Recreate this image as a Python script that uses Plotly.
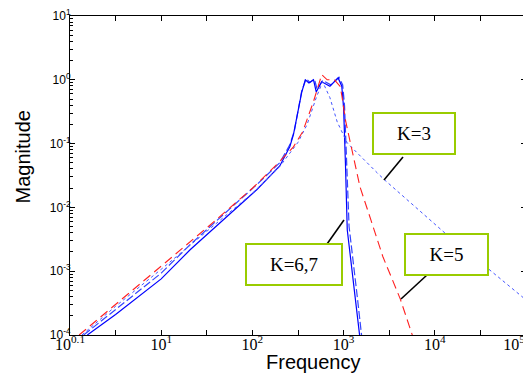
import plotly.graph_objects as go

# ---- data (log10 of frequency, log10 of magnitude) ----
k3_logf = [0.13, 0.5, 1.0, 1.5, 2.0, 2.3, 2.5, 2.6, 2.7, 2.77, 2.85, 2.93, 2.98, 3.04, 3.37, 3.45, 4.11, 4.97, 5.0]
k3_logm = [-4.0, -3.55, -2.97, -2.37, -1.78, -1.36, -0.98, -0.70, -0.28, -0.03, -0.28, -0.66, -0.80, -0.99, -1.46, -1.57, -2.40, -3.42, -3.45]

k5_logf = [0.10, 0.5, 1.0, 1.5, 2.0, 2.3, 2.45, 2.55, 2.67, 2.76, 2.82, 2.90, 2.96, 2.98, 3.02, 3.10, 3.18, 3.30, 3.43, 3.62, 3.76, 3.80]
k5_logm = [-4.0, -3.52, -2.92, -2.32, -1.70, -1.28, -1.05, -0.82, -0.34, 0.08, 0.0, 0.0, -0.10, -0.24, -0.63, -1.15, -1.68, -2.20, -2.77, -3.43, -4.0, -4.2]

k6_logf = [0.19, 0.5, 1.0, 1.32, 2.05, 2.30, 2.41, 2.45, 2.54, 2.58, 2.62, 2.67, 2.70, 2.76, 2.85, 2.94, 2.98, 3.00, 3.02, 3.04, 3.13, 3.18, 3.20]
k6_logm = [-4.0, -3.68, -3.12, -2.66, -1.72, -1.35, -1.05, -0.86, -0.20, 0.0, -0.05, 0.0, -0.19, -0.03, -0.10, 0.03, -0.10, -0.44, -1.30, -2.35, -3.45, -4.0, -4.3]

k7_logf = [0.15, 0.5, 1.0, 1.32, 2.05, 2.30, 2.41, 2.46, 2.54, 2.59, 2.63, 2.68, 2.71, 2.77, 2.86, 2.95, 2.99, 3.01, 3.03, 3.06, 3.15, 3.20, 3.22]
k7_logm = [-4.0, -3.60, -3.03, -2.58, -1.64, -1.30, -1.02, -0.80, -0.18, 0.02, -0.04, 0.01, -0.15, -0.01, -0.08, 0.04, -0.08, -0.40, -1.20, -2.30, -3.40, -4.0, -4.3]

y_tick_exp = [-4, -3, -2, -1, 0, 1]
x_tick_exp = [0, 1, 2, 3, 4, 5]
x_tick_text = ["10<sup>0.1</sup>", "10<sup>1</sup>", "10<sup>2</sup>",
               "10<sup>3</sup>", "10<sup>4</sup>",
               "10<sup>5</sup>&nbsp;&nbsp;&nbsp;&nbsp;&nbsp;&nbsp;"]
x_half_exp = [0.5, 1.5, 2.5, 3.5, 4.5]

x_title = "Frequency"
y_title = "Magnitude"
labels = ["K=3", "K=5", "K=6,7"]


def pw(a):
    return [10 ** v for v in a]


fig = go.Figure()
fig.add_trace(go.Scatter(x=pw(k7_logf), y=pw(k7_logm), mode="lines",
                         line=dict(color="#3344ff", width=1.2, dash="8px,3px"), name="K=7"))
fig.add_trace(go.Scatter(x=pw(k6_logf), y=pw(k6_logm), mode="lines",
                         line=dict(color="#0000ff", width=1.2), name="K=6"))
fig.add_trace(go.Scatter(x=pw(k3_logf), y=pw(k3_logm), mode="lines",
                         line=dict(color="#4455ff", width=1, dash="3px,3px"), name="K=3"))
fig.add_trace(go.Scatter(x=pw(k5_logf), y=pw(k5_logm), mode="lines",
                         line=dict(color="#ff2020", width=1.1, dash="9px,5px"), name="K=5"))

minor_y = [m * 10 ** e for e in range(-4, 1) for m in range(2, 10)]

axis_common = dict(showline=True, linecolor="black", linewidth=1, mirror="ticks",
                   ticks="inside", tickcolor="black", showgrid=False, zeroline=False,
                   automargin=False, ticklabeloverflow="allow")

fig.update_xaxes(type="log", range=[0, 5], tickmode="array",
                 tickvals=[10 ** e for e in x_tick_exp], ticktext=x_tick_text, ticklen=5,
                 tickfont=dict(family="Liberation Serif, Times New Roman", size=16, color="black"),
                 ticklabelstandoff=-5,
                 minor=dict(tickmode="array", tickvals=[10 ** e for e in x_half_exp], ticks="inside",
                            ticklen=5, tickcolor="black"),
                 **axis_common)
fig.update_yaxes(type="log", range=[-4, 1], tickmode="array",
                 tickvals=[10 ** e for e in y_tick_exp],
                 ticktext=["10<sup>%d</sup>" % e for e in y_tick_exp], ticklen=5,
                 tickfont=dict(family="Liberation Sans, Arial", size=12, color="black"),
                 ticklabelstandoff=-4,
                 minor=dict(tickmode="array", tickvals=minor_y, ticks="inside", ticklen=3, tickcolor="black"),
                 **axis_common)

# page has an 8px body margin; compensate so the plot area sits at 70..526 x 16..335
OFF = 8
W, H = 531 - OFF, 374 - OFF
L, R, T, B = 70 - OFF, 5, 16 - OFF, 39
PX0, PX1, PY0, PY1 = 70, 526, 16, 335


def px(x):
    return (x - PX0) / (PX1 - PX0)


def py(y):
    return (PY1 - y) / (PY1 - PY0)


title_font = dict(family="Liberation Sans, Arial", size=20, color="black")
fig.add_annotation(x=px(313.5), y=py(362), xref="paper", yref="paper", text=x_title, showarrow=False,
                   xanchor="center", yanchor="middle", font=title_font)
fig.add_annotation(x=px(22.5), y=py(157), xref="paper", yref="paper", text=y_title, showarrow=False,
                   textangle=-90, xanchor="center", yanchor="middle", font=title_font)

boxes = [(414, 133.5, 80, 39), (446.5, 254.5, 81, 39), (294, 264.5, 94, 39)]
for lab, (cx, cy, bw, bh) in zip(labels, boxes):
    fig.add_annotation(x=px(cx), y=py(cy), xref="paper", yref="paper", text=lab, showarrow=False,
                       width=bw, height=bh, borderwidth=2, borderpad=0, bordercolor="#99cc00",
                       bgcolor="white", xanchor="center", yanchor="middle",
                       font=dict(family="Liberation Serif, Times New Roman", size=19, color="black"))

callouts = [((403, 157), (384, 180)), ((427, 275), (401, 299)), ((327, 244), (344, 220))]
for (x0, y0), (x1, y1) in callouts:
    fig.add_shape(type="line", xref="paper", yref="paper", x0=px(x0), y0=py(y0), x1=px(x1), y1=py(y1),
                  line=dict(color="black", width=1.6))

fig.update_layout(width=W, height=H, margin=dict(l=L, r=R, t=T, b=B), showlegend=False,
                  plot_bgcolor="white", paper_bgcolor="white")

fig.write_html("out.html")
